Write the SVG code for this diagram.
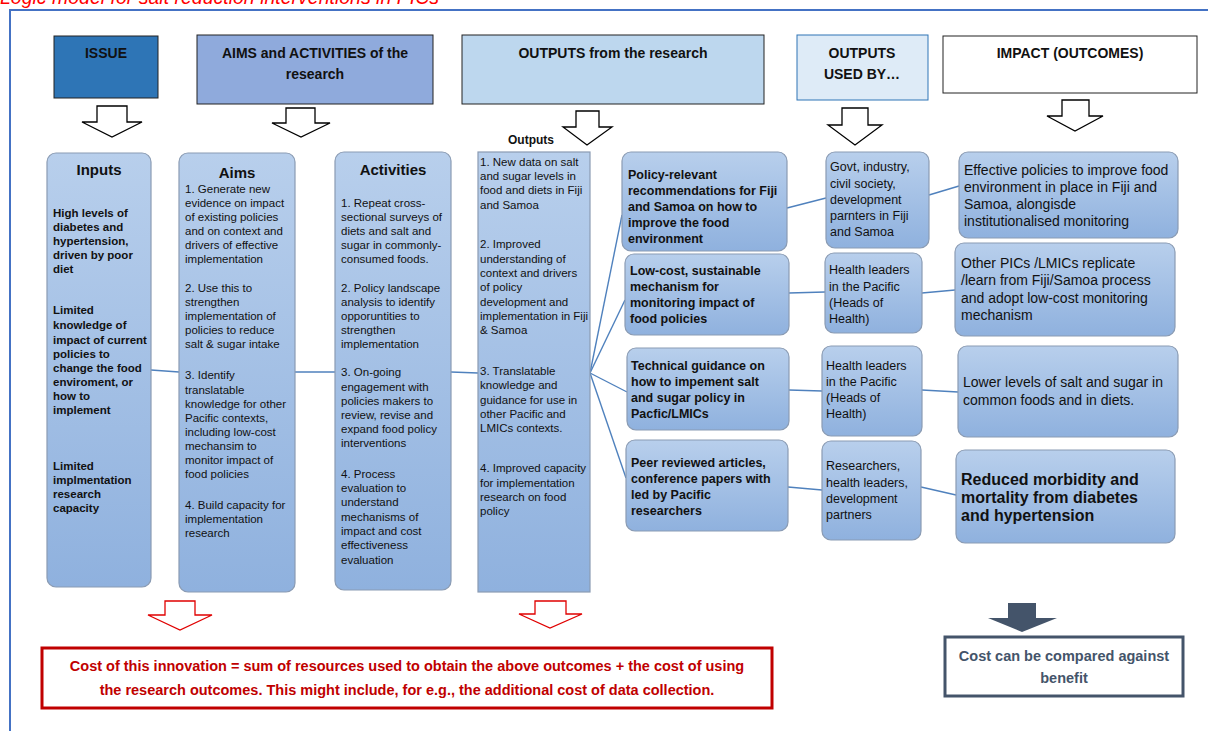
<svg xmlns="http://www.w3.org/2000/svg" width="1208" height="731" viewBox="0 0 1208 731">
<defs>
<linearGradient id="g" x1="0" y1="0" x2="0" y2="1">
<stop offset="0" stop-color="#b8cfec"/>
<stop offset="1" stop-color="#8fb1de"/>
</linearGradient>
<style>
.hdr{font-family:"Liberation Sans",Arial,sans-serif;font-weight:bold;font-size:14px;fill:#111;text-anchor:middle}
.box{fill:url(#g);stroke:#8a9bb3;stroke-width:1.2}
.col{font-family:"Liberation Sans",Arial,sans-serif;font-size:11.5px;fill:#111}
.colb{font-family:"Liberation Sans",Arial,sans-serif;font-size:11.5px;font-weight:bold;fill:#111}
.ttl{font-family:"Liberation Sans",Arial,sans-serif;font-size:15px;font-weight:bold;fill:#111;text-anchor:middle}
.mid{font-family:"Liberation Sans",Arial,sans-serif;font-size:12.5px;font-weight:bold;fill:#111}
.use{font-family:"Liberation Sans",Arial,sans-serif;font-size:12.5px;fill:#111}
.imp{font-family:"Liberation Sans",Arial,sans-serif;font-size:14px;fill:#111}
.impb{font-family:"Liberation Sans",Arial,sans-serif;font-size:16px;font-weight:bold;fill:#111}
.conn{stroke:#4f81bd;stroke-width:1.4;fill:none}
.harrow{fill:#fff;stroke:#000;stroke-width:1.3}
.rarrow{fill:#fff;stroke:#e00000;stroke-width:1.3}
</style>
</defs>
<text x="0" y="4" font-family="Liberation Sans,Arial,sans-serif" font-style="italic" font-size="19.5" fill="#ff0000">Logic model for salt reduction interventions in PICs</text>
<path d="M10 731 V10 H1208" fill="none" stroke="#4472c4" stroke-width="2"/>

<g id="hdr-issue"><rect x="54" y="36" width="104" height="62" fill="#2e75b6" stroke="#222" stroke-width="1"/><text class="hdr" x="106" y="58">ISSUE</text></g>
<g id="hdr-aims"><rect x="197" y="35" width="236" height="69" fill="#8faadc" stroke="#222" stroke-width="1"/><text class="hdr" x="315" y="58">AIMS and ACTIVITIES of the</text><text class="hdr" x="315" y="79">research</text></g>
<g id="hdr-outputs"><rect x="462" y="35" width="302" height="69" fill="#bdd7ee" stroke="#222" stroke-width="1"/><text class="hdr" x="613" y="58">OUTPUTS from the research</text></g>
<g id="hdr-used"><rect x="797" y="35" width="131" height="65" fill="#deebf7" stroke="#2e75b6" stroke-width="1"/><text class="hdr" x="862" y="58">OUTPUTS</text><text class="hdr" x="862" y="79">USED BY…</text></g>
<g id="hdr-impact"><rect x="943" y="36" width="254" height="57" fill="#fff" stroke="#222" stroke-width="1"/><text class="hdr" x="1070" y="58">IMPACT (OUTCOMES)</text></g>

<g id="down-arrows">
<path class="harrow" d="M97 106 H127 V122 H142 L112 137 L82 122 H97 Z"/>
<path class="harrow" d="M286 108 H315 V123 H330 L301 137 L272 123 H286 Z"/>
<path class="harrow" d="M576 111 H599 V127 H612 L587 145 L563 127 H576 Z"/>
<path class="harrow" d="M842 108 H868 V125 H882 L855 145 L828 125 H842 Z"/>
<path class="harrow" d="M1062 100 H1089 V116 H1103 L1075 131 L1047 116 H1062 Z"/>
</g>
<text x="508" y="144" font-family="Liberation Sans,Arial,sans-serif" font-size="12px" font-weight="bold" fill="#111">Outputs</text>

<g id="connectors">
<line class="conn" x1="151" y1="370" x2="179" y2="372"/>
<line class="conn" x1="295" y1="372" x2="335" y2="372"/>
<line class="conn" x1="451" y1="372" x2="478" y2="373"/>
<line class="conn" x1="590" y1="373" x2="622" y2="215"/>
<line class="conn" x1="590" y1="373" x2="625" y2="300"/>
<line class="conn" x1="590" y1="373" x2="627" y2="392"/>
<line class="conn" x1="590" y1="373" x2="626" y2="478"/>
<line class="conn" x1="787" y1="208" x2="826" y2="198"/>
<line class="conn" x1="789" y1="293" x2="825" y2="292"/>
<line class="conn" x1="789" y1="390" x2="822" y2="391"/>
<line class="conn" x1="788" y1="487" x2="822" y2="490"/>
<line class="conn" x1="929" y1="195" x2="959" y2="186"/>
<line class="conn" x1="922" y1="293" x2="955" y2="290"/>
<line class="conn" x1="922" y1="390" x2="958" y2="392"/>
<line class="conn" x1="921" y1="487" x2="956" y2="495"/>
</g>

<g id="inputs"><rect class="box" x="47" y="153" width="104" height="434" rx="9"/>
<text class="ttl" x="99" y="175">Inputs</text>
<text class="colb" x="53"><tspan x="53" y="217">High levels of</tspan><tspan x="53" y="231">diabetes and</tspan><tspan x="53" y="245">hypertension,</tspan><tspan x="53" y="259">driven by poor</tspan><tspan x="53" y="273">diet</tspan><tspan x="53" y="314">Limited</tspan><tspan x="53" y="329">knowledge of</tspan><tspan x="53" y="344">impact of current</tspan><tspan x="53" y="358">policies to</tspan><tspan x="53" y="372">change the food</tspan><tspan x="53" y="386">enviroment, or</tspan><tspan x="53" y="400">how to</tspan><tspan x="53" y="414">implement</tspan><tspan x="53" y="470">Limited</tspan><tspan x="53" y="484">implmentation</tspan><tspan x="53" y="498">research</tspan><tspan x="53" y="512">capacity</tspan></text>
</g>

<g id="aims"><rect class="box" x="179" y="153" width="116" height="439" rx="9"/>
<text class="ttl" x="237" y="178">Aims</text>
<text class="col"><tspan x="185" y="193">1. Generate new</tspan><tspan x="185" y="207">evidence on impact</tspan><tspan x="185" y="221">of existing policies</tspan><tspan x="185" y="235">and on context and</tspan><tspan x="185" y="249">drivers of effective</tspan><tspan x="185" y="263">implementation</tspan><tspan x="185" y="292">2. Use this to</tspan><tspan x="185" y="306">strengthen</tspan><tspan x="185" y="320">implementation of</tspan><tspan x="185" y="334">policies to reduce</tspan><tspan x="185" y="348">salt &amp; sugar intake</tspan><tspan x="185" y="379">3. Identify</tspan><tspan x="185" y="394">translatable</tspan><tspan x="185" y="408">knowledge for other</tspan><tspan x="185" y="422">Pacific contexts,</tspan><tspan x="185" y="436">including low-cost</tspan><tspan x="185" y="450">mechansim to</tspan><tspan x="185" y="464">monitor impact of</tspan><tspan x="185" y="478">food policies</tspan><tspan x="185" y="509">4. Build capacity for</tspan><tspan x="185" y="523">implementation</tspan><tspan x="185" y="537">research</tspan></text>
</g>

<g id="activities"><rect class="box" x="335" y="152" width="116" height="438" rx="9"/>
<text class="ttl" x="393" y="175">Activities</text>
<text class="col"><tspan x="341" y="207">1. Repeat cross-</tspan><tspan x="341" y="221">sectional surveys of</tspan><tspan x="341" y="235">diets and salt and</tspan><tspan x="341" y="249">sugar in commonly-</tspan><tspan x="341" y="263">consumed foods.</tspan><tspan x="341" y="292">2. Policy landscape</tspan><tspan x="341" y="306">analysis to identify</tspan><tspan x="341" y="320">opporuntities to</tspan><tspan x="341" y="334">strengthen</tspan><tspan x="341" y="348">implementation</tspan><tspan x="341" y="376">3. On-going</tspan><tspan x="341" y="391">engagement with</tspan><tspan x="341" y="405">policies makers to</tspan><tspan x="341" y="419">review, revise and</tspan><tspan x="341" y="433">expand food policy</tspan><tspan x="341" y="447">interventions</tspan><tspan x="341" y="478">4. Process</tspan><tspan x="341" y="492">evaluation to</tspan><tspan x="341" y="506">understand</tspan><tspan x="341" y="521">mechanisms of</tspan><tspan x="341" y="535">impact and cost</tspan><tspan x="341" y="549">effectiveness</tspan><tspan x="341" y="564">evaluation</tspan></text>
</g>

<g id="outputs"><rect class="box" x="478" y="152" width="112" height="440"/>
<text class="col"><tspan x="480" y="166">1. New data on salt</tspan><tspan x="480" y="180">and sugar levels in</tspan><tspan x="480" y="194">food and diets in Fiji</tspan><tspan x="480" y="209">and Samoa</tspan><tspan x="480" y="248">2. Improved</tspan><tspan x="480" y="263">understanding of</tspan><tspan x="480" y="277">context and drivers</tspan><tspan x="480" y="291">of policy</tspan><tspan x="480" y="306">development and</tspan><tspan x="480" y="320">implementation in Fiji</tspan><tspan x="480" y="334">&amp; Samoa</tspan><tspan x="480" y="375">3. Translatable</tspan><tspan x="480" y="389">knowledge and</tspan><tspan x="480" y="404">guidance for use in</tspan><tspan x="480" y="418">other Pacific and</tspan><tspan x="480" y="432">LMICs contexts.</tspan><tspan x="480" y="472">4. Improved capacity</tspan><tspan x="480" y="487">for implementation</tspan><tspan x="480" y="501">research on food</tspan><tspan x="480" y="515">policy</tspan></text>
</g>

<g id="out-policy"><rect class="box" x="622" y="152" width="165" height="99" rx="9"/>
<text class="mid"><tspan x="628" y="179">Policy-relevant</tspan><tspan x="628" y="195">recommendations for Fiji</tspan><tspan x="628" y="211">and Samoa on how to</tspan><tspan x="628" y="227">improve the food</tspan><tspan x="628" y="243">environment</tspan></text></g>
<g id="out-lowcost"><rect class="box" x="625" y="254" width="164" height="81" rx="9"/>
<text class="mid"><tspan x="630" y="275">Low-cost, sustainable</tspan><tspan x="630" y="291">mechanism for</tspan><tspan x="630" y="307">monitoring impact of</tspan><tspan x="630" y="323">food policies</tspan></text></g>
<g id="out-technical"><rect class="box" x="627" y="348" width="162" height="82" rx="9"/>
<text class="mid"><tspan x="631" y="370">Technical guidance on</tspan><tspan x="631" y="386">how to impement salt</tspan><tspan x="631" y="402">and sugar policy in</tspan><tspan x="631" y="418">Pacfic/LMICs</tspan></text></g>
<g id="out-peer"><rect class="box" x="626" y="440" width="162" height="91" rx="9"/>
<text class="mid"><tspan x="631" y="467">Peer reviewed articles,</tspan><tspan x="631" y="483">conference papers with</tspan><tspan x="631" y="499">led by Pacific</tspan><tspan x="631" y="515">researchers</tspan></text></g>

<g id="used-govt"><rect class="box" x="826" y="152" width="103" height="96" rx="9"/>
<text class="use"><tspan x="830" y="171">Govt, industry,</tspan><tspan x="830" y="188">civil society,</tspan><tspan x="830" y="204">development</tspan><tspan x="830" y="220">parnters in Fiji</tspan><tspan x="830" y="236">and Samoa</tspan></text></g>
<g id="used-health1"><rect class="box" x="825" y="253" width="97" height="80" rx="9"/>
<text class="use"><tspan x="829" y="274">Health leaders</tspan><tspan x="829" y="291">in the Pacific</tspan><tspan x="829" y="307">(Heads of</tspan><tspan x="829" y="323">Health)</tspan></text></g>
<g id="used-health2"><rect class="box" x="822" y="346" width="100" height="90" rx="9"/>
<text class="use"><tspan x="826" y="370">Health leaders</tspan><tspan x="826" y="386">in the Pacific</tspan><tspan x="826" y="402">(Heads of</tspan><tspan x="826" y="418">Health)</tspan></text></g>
<g id="used-researchers"><rect class="box" x="822" y="441" width="99" height="99" rx="9"/>
<text class="use"><tspan x="826" y="470">Researchers,</tspan><tspan x="826" y="487">health leaders,</tspan><tspan x="826" y="503">development</tspan><tspan x="826" y="519">partners</tspan></text></g>

<g id="imp-effective"><rect class="box" x="959" y="152" width="219" height="86" rx="9"/>
<text class="imp"><tspan x="964" y="175">Effective policies to improve food</tspan><tspan x="964" y="192">environment in place in Fiji and</tspan><tspan x="964" y="209">Samoa, alongisde</tspan><tspan x="964" y="226">institutionalised monitoring</tspan></text></g>
<g id="imp-other"><rect class="box" x="955" y="243" width="220" height="93" rx="9"/>
<text class="imp"><tspan x="961" y="268"> Other PICs /LMICs replicate</tspan><tspan x="961" y="285">/learn from Fiji/Samoa process</tspan><tspan x="961" y="303">and adopt low-cost monitoring</tspan><tspan x="961" y="320">mechanism</tspan></text></g>
<g id="imp-lower"><rect class="box" x="958" y="346" width="220" height="91" rx="9"/>
<text class="imp"><tspan x="963" y="387">Lower levels of salt and sugar in</tspan><tspan x="963" y="405">common foods and in diets.</tspan></text></g>
<g id="imp-reduced"><rect class="box" x="956" y="450" width="219" height="93" rx="9"/>
<text class="impb"><tspan x="961" y="485">Reduced morbidity and</tspan><tspan x="961" y="503">mortality from diabetes</tspan><tspan x="961" y="521">and hypertension</tspan></text></g>

<g id="cost-arrows">
<path class="rarrow" d="M165 601 H195 V615 H212 L180 630 L148 615 H165 Z"/>
<path class="rarrow" d="M535 601 H566 V614 H582 L550 628 L519 614 H535 Z"/>
<path d="M1008 603 H1036 V618 H1057 L1022 632 L988 618 H1008 Z" fill="#44546a"/>
</g>

<g id="cost-box"><rect x="42" y="648" width="730" height="60" fill="#fff" stroke="#c00000" stroke-width="3"/>
<text font-family="Liberation Sans,Arial,sans-serif" font-size="14.5px" font-weight="bold" fill="#c00000" text-anchor="middle"><tspan x="407" y="671">Cost of this innovation = sum of resources used to obtain the above outcomes + the cost of using</tspan><tspan x="407" y="695">the research outcomes. This might include, for e.g., the additional cost of data collection.</tspan></text></g>

<g id="benefit-box"><rect x="945" y="637" width="238" height="59" fill="#fff" stroke="#44546a" stroke-width="3"/>
<text font-family="Liberation Sans,Arial,sans-serif" font-size="14.5px" font-weight="bold" fill="#44546a" text-anchor="middle"><tspan x="1064" y="661">Cost can be compared against</tspan><tspan x="1064" y="683">benefit</tspan></text></g>
</svg>
